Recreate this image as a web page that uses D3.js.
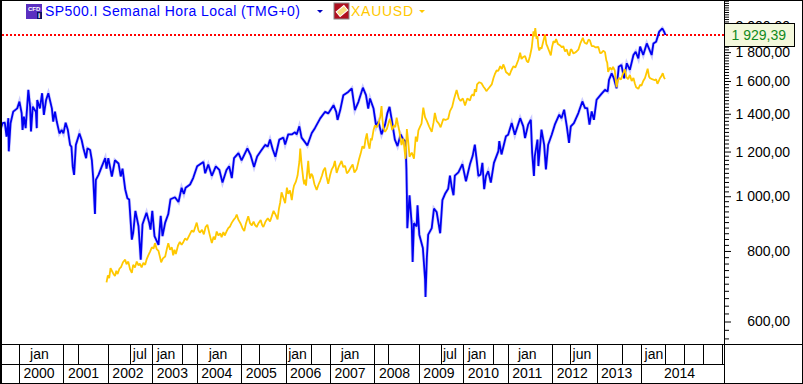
<!DOCTYPE html>
<html>
<head>
<meta charset="utf-8">
<script src="https://d3js.org/d3.v7.min.js"></script>
<style>
  html, body { margin: 0; padding: 0; background: #fff; overflow: hidden; }
  svg { display: block; font-family: "Liberation Sans", Arial, sans-serif; }
  .axis-label { font-size: 14px; fill: #000; }
</style>
</head>
<body>
<svg id="chart"></svg>
<script>
// Dados (ano decimal / preco na escala da direita)
const spxYears = [1999.57,1999.63,1999.68,1999.72,1999.76,1999.77,1999.81,1999.87,1999.96,2000.01,2000.06,2000.08,2000.11,2000.15,2000.21,2000.25,2000.27,2000.31,2000.38,2000.40,2000.41,2000.47,2000.52,2000.56,2000.61,2000.66,2000.74,2000.77,2000.81,2000.85,2000.91,2000.96,2001.00,2001.05,2001.10,2001.15,2001.18,2001.21,2001.24,2001.28,2001.36,2001.41,2001.45,2001.51,2001.54,2001.60,2001.64,2001.67,2001.71,2001.73,2001.79,2001.86,2001.94,2001.97,2002.01,2002.09,2002.16,2002.24,2002.29,2002.33,2002.39,2002.44,2002.48,2002.54,2002.57,2002.62,2002.69,2002.74,2002.78,2002.87,2002.93,2002.96,2003.00,2003.05,2003.14,2003.19,2003.23,2003.29,2003.36,2003.41,2003.51,2003.59,2003.66,2003.71,2003.75,2003.85,2003.92,2004.01,2004.15,2004.19,2004.26,2004.34,2004.43,2004.51,2004.58,2004.67,2004.73,2004.79,2004.84,2004.94,2005.01,2005.14,2005.21,2005.29,2005.36,2005.44,2005.54,2005.60,
  2005.65,2005.71,2005.77,2005.86,2005.95,2005.99,2006.06,2006.14,2006.21,2006.25,2006.31,2006.36,2006.42,2006.49,2006.59,2006.66,2006.78,2006.89,2006.96,2007.08,2007.14,2007.17,2007.23,2007.30,2007.41,2007.49,2007.56,2007.64,2007.74,2007.81,2007.86,2007.90,2007.98,2008.04,2008.09,2008.16,2008.24,2008.29,2008.34,2008.39,2008.46,2008.52,2008.59,2008.65,2008.70,2008.72,2008.73,2008.74,2008.79,2008.84,2008.86,2008.89,2008.95,2008.97,2009.01,2009.09,2009.14,2009.15,2009.18,2009.21,2009.29,2009.34,2009.40,2009.48,2009.53,2009.59,2009.66,2009.70,2009.74,2009.78,2009.81,2009.89,2009.98,2010.06,
  2010.15,2010.21,2010.26,2010.30,2010.34,2010.39,2010.43,2010.47,2010.51,2010.56,2010.62,2010.69,2010.79,2010.81,2010.86,2010.96,2011.01,2011.09,2011.16,2011.28,2011.35,2011.39,2011.46,2011.52,2011.55,2011.59,2011.61,2011.67,2011.69,2011.76,2011.82,2011.86,2011.91,2011.99,2012.06,2012.16,2012.21,2012.27,2012.33,2012.38,2012.42,2012.49,2012.59,2012.68,2012.74,2012.79,2012.84,2012.89,2012.94,2013.00,2013.11,2013.19,2013.25,2013.28,2013.34,2013.39,2013.45,2013.50,2013.56,2013.62,2013.68,2013.75,2013.83,2013.88,2013.94,2013.98,2014.05,2014.13,2014.24,2014.28,2014.34,2014.41,2014.48,2014.52,2014.55];
const spxValues = [1302,1347,1350,1275,1375,1201,1347,1412,1431,1471,1403,1310,1384,1320,1543,1441,1302,1441,1412,1320,1481,1431,1522,1393,1481,1522,1431,1356,1412,1356,1292,1310,1292,1350,1310,1233,1224,1127,1091,1233,1292,1258,1216,1168,1216,1208,1158,1077,930,1069,1091,1127,1168,1119,1168,1084,1158,1143,1084,1119,1029,992,987,838,861,942,885,772,892,935,898,873,942,850,820,923,850,898,930,988,996,977,1035,1009,1035,1049,1077,1130,1150,1098,1138,1087,1130,1113,1058,1113,1130,1077,1168,1192,1158,1216,1184,1127,1176,1201,1233,1225,
  1260,1211,1175,1260,1270,1235,1287,1287,1298,1287,1330,1270,1252,1230,1294,1320,1374,1411,1402,1450,1411,1365,1421,1510,1530,1552,1421,1470,1557,1510,1430,1490,1430,1329,1356,1287,1339,1402,1440,1365,1260,1227,1287,1260,1252,1117,1011,878,1004,890,765,896,884,964,855,810,712,663,778,855,878,951,938,860,984,1010,1031,1088,1038,1004,1088,1102,1140,1063,
  1139,1178,1234,1162,1086,1093,1146,1029,1086,1108,1057,1146,1202,1252,1186,1277,1285,1348,1285,1375,1330,1268,1339,1366,1194,1086,1178,1260,1131,1312,1234,1116,1234,1285,1339,1395,1375,1423,1330,1243,1330,1348,1404,1472,1432,1432,1339,1413,1366,1482,1518,1543,1533,1608,1650,1617,1553,1696,1708,1617,1720,1674,1779,1803,1754,1841,1779,1865,1779,1865,1878,1957,1983,1957,1930];

const goldPoints = [
  [2001.97,704],[2002.00,724],[2002.03,716],[2002.06,746],[2002.09,738],[2002.12,730],[2002.16,722],[2002.19,738],[2002.22,728],[2002.26,744],[2002.30,750],[2002.34,764],[2002.39,772],[2002.42,758],[2002.46,766],[2002.50,742],[2002.54,732],[2002.57,756],[2002.61,748],[2002.65,766],[2002.69,754],[2002.72,760],[2002.76,748],[2002.80,762],[2002.84,756],[2002.87,772],[2002.91,786],[2002.95,798],[2002.99,812],
  [2003.03,808],[2003.06,826],[2003.10,806],[2003.14,800],[2003.17,782],[2003.20,764],[2003.24,776],[2003.29,782],[2003.33,808],[2003.36,826],[2003.40,804],[2003.44,812],[2003.47,786],[2003.50,804],[2003.53,790],[2003.58,818],[2003.62,830],[2003.66,820],[2003.70,830],[2003.74,842],[2003.78,836],[2003.85,858],[2003.89,870],[2003.93,864],
  [2004.00,898],[2004.04,870],[2004.07,862],[2004.12,872],[2004.16,856],[2004.20,882],[2004.24,890],[2004.29,856],[2004.34,826],[2004.38,848],[2004.41,838],[2004.45,866],[2004.49,852],[2004.53,860],[2004.56,846],[2004.60,864],[2004.63,852],[2004.67,866],[2004.71,878],[2004.75,884],[2004.79,898],[2004.83,908],[2004.87,916],[2004.90,928],[2004.94,908],[2004.99,894],
  [2005.03,878],[2005.07,868],[2005.11,896],[2005.16,922],[2005.20,896],[2005.24,888],[2005.28,902],[2005.31,890],[2005.35,882],[2005.39,896],[2005.44,908],[2005.47,890],[2005.50,882],[2005.55,902],[2005.60,914],[2005.65,902],[2005.69,922],[2005.73,942],[2005.78,926],[2005.82,910],[2005.85,950],[2005.88,976],[2005.91,1016],[2005.95,994],[2005.99,972],
  [2006.03,1036],[2006.06,1010],[2006.10,1024],[2006.14,984],[2006.17,1026],[2006.19,1044],[2006.23,1060],[2006.27,1088],[2006.29,1120],[2006.31,1150],[2006.33,1215],[2006.36,1140],[2006.38,1105],[2006.40,1070],[2006.42,1050],[2006.44,1070],[2006.46,1044],[2006.49,1110],[2006.51,1155],[2006.53,1100],[2006.55,1075],[2006.58,1096],[2006.61,1086],[2006.65,1050],[2006.70,1026],[2006.74,1048],[2006.78,1066],[2006.82,1088],[2006.85,1110],[2006.89,1124],[2006.92,1085],[2006.96,1052],
  [2007.00,1088],[2007.04,1116],[2007.08,1130],[2007.11,1155],[2007.15,1100],[2007.20,1130],[2007.26,1155],[2007.30,1126],[2007.34,1132],[2007.38,1098],[2007.41,1104],[2007.46,1122],[2007.51,1138],[2007.55,1102],[2007.60,1116],[2007.65,1160],[2007.69,1190],[2007.73,1226],[2007.77,1215],[2007.80,1262],[2007.83,1292],[2007.86,1240],[2007.89,1214],[2007.92,1266],[2007.94,1256],[2007.98,1310],
  [2008.01,1335],[2008.05,1325],[2008.09,1345],[2008.13,1380],[2008.16,1445],[2008.18,1370],[2008.20,1325],[2008.24,1300],[2008.28,1316],[2008.32,1350],[2008.35,1372],[2008.40,1310],[2008.44,1335],[2008.47,1325],[2008.50,1378],[2008.53,1340],[2008.56,1305],[2008.59,1260],[2008.61,1232],[2008.65,1265],[2008.70,1165],[2008.73,1315],[2008.76,1250],[2008.79,1175],[2008.84,1195],[2008.89,1165],[2008.93,1275],[2008.96,1250],[2008.99,1308],
  [2009.03,1330],[2009.06,1345],[2009.10,1435],[2009.14,1380],[2009.18,1360],[2009.23,1330],[2009.29,1300],[2009.33,1350],[2009.36,1405],[2009.40,1360],[2009.45,1345],[2009.49,1325],[2009.55,1370],[2009.60,1365],[2009.66,1372],[2009.70,1415],[2009.75,1440],[2009.79,1485],[2009.85,1542],[2009.90,1490],[2009.94,1475],[2009.99,1490],
  [2010.04,1448],[2010.09,1490],[2010.15,1478],[2010.18,1505],[2010.21,1515],[2010.24,1505],[2010.26,1548],[2010.29,1530],[2010.31,1578],[2010.36,1592],[2010.41,1585],[2010.45,1565],[2010.49,1550],[2010.52,1535],[2010.54,1542],[2010.59,1560],[2010.64,1578],[2010.68,1620],[2010.71,1645],[2010.75,1670],[2010.79,1668],[2010.83,1700],[2010.87,1680],[2010.90,1712],[2010.93,1690],[2010.96,1660],
  [2011.00,1650],[2011.04,1638],[2011.08,1670],[2011.13,1700],[2011.17,1690],[2011.20,1712],[2011.24,1745],[2011.28,1796],[2011.31,1750],[2011.35,1765],[2011.39,1772],[2011.43,1735],[2011.46,1726],[2011.50,1770],[2011.54,1832],[2011.58,1960],[2011.60,1920],[2011.62,1986],[2011.65,1900],[2011.67,1922],[2011.69,1840],[2011.71,1812],[2011.74,1835],[2011.76,1825],[2011.80,1880],[2011.84,1934],[2011.87,1860],[2011.89,1845],[2011.93,1810],[2011.97,1776],
  [2012.00,1840],[2012.03,1882],[2012.06,1870],[2012.09,1898],[2012.13,1860],[2012.18,1850],[2012.22,1835],[2012.25,1845],[2012.29,1805],[2012.33,1820],[2012.36,1785],[2012.39,1775],[2012.42,1822],[2012.44,1816],[2012.48,1790],[2012.51,1795],[2012.55,1805],[2012.59,1818],[2012.64,1870],[2012.69,1908],[2012.73,1870],[2012.78,1862],[2012.82,1895],[2012.85,1888],[2012.89,1845],[2012.93,1845],[2012.98,1835],
  [2013.04,1838],[2013.08,1792],[2013.11,1795],[2013.15,1810],[2013.19,1800],[2013.22,1740],[2013.24,1725],[2013.26,1660],[2013.30,1690],[2013.34,1675],[2013.37,1695],[2013.41,1670],[2013.43,1610],[2013.45,1560],[2013.48,1605],[2013.51,1620],[2013.55,1610],[2013.59,1645],[2013.64,1678],[2013.67,1625],[2013.71,1612],[2013.75,1640],[2013.79,1600],[2013.83,1620],[2013.86,1585],[2013.89,1560],[2013.94,1550],[2013.98,1575],
  [2014.01,1570],[2014.05,1600],[2014.09,1620],[2014.12,1650],[2014.15,1682],[2014.18,1630],[2014.20,1620],[2014.25,1612],[2014.31,1605],[2014.34,1612],[2014.37,1582],[2014.40,1600],[2014.43,1620],[2014.46,1632],[2014.49,1652],[2014.52,1622],[2014.54,1612]
];

const priceTicks = [600,800,1000,1200,1400,1600,1800,2000];
const lastPrice = 1929.39;

const yearLabels = [2000,2001,2002,2003,2004,2005,2006,2007,2008,2009,2010,2011,2012,2013,2014];
const monthLabels = ["jan","jul","jan","jan","jan","jan","jul","jan","jan","jun","jan"];
const monthLabelYears = [2000.46,2002.72,2003.31,2004.48,2006.27,2007.45,2009.70,2010.31,2011.44,2012.67,2014.29];
const monthDividers = [2000,2001,2001.33,2002,2002.5,2003,2003.66,2004,2005,2005.41,2006,2006.58,2007,2008,2008.31,2009,2009.5,2010,2010.66,2011,2012,2012.41,2013,2013.58,2014,2014.55,2014.97,2015.4,2015.82];

// Tamanhos
const width = 803;
const height = 384;
const plotRight = 724;
const plotBottom = 344;
const rowMid = 364;

const svg = d3.select("#chart").attr("width", width).attr("height", height);

// Escalas
const x = d3.scaleLinear().domain([2000, 2014]).range([19, 641]);
const y = d3.scaleLog().domain([600, 1600]).range([321.5, 81]);
const fmt = d3.formatLocale({ decimal: ",", thousands: " ", grouping: [3], currency: ["", ""] }).format(",.2f");

svg.append("defs").append("clipPath").attr("id", "plot")
    .append("rect").attr("width", plotRight).attr("height", plotBottom);

// Linha do ultimo preco
svg.append("line")
    .attr("x1", 2).attr("x2", plotRight)
    .attr("y1", y(lastPrice)).attr("y2", y(lastPrice))
    .attr("stroke", "#f00").attr("stroke-width", 2).attr("stroke-dasharray", "2,2");

// Series
const line = d3.line().x(d => x(d[0])).y(d => y(d[1]));
const spx = d3.zip(spxYears, spxValues);
const marks = svg.append("g").attr("clip-path", "url(#plot)");

marks.append("path").datum(spx).attr("d", line)
    .attr("fill", "none").attr("stroke", "#0000ff").attr("stroke-width", 3.2).attr("stroke-opacity", 0.2);
marks.append("path").datum(spx).attr("d", line)
    .attr("fill", "none").attr("stroke", "#0000f0").attr("stroke-width", 1.8).attr("stroke-linejoin", "bevel");
marks.append("path").datum(goldPoints).attr("d", line)
    .attr("fill", "none").attr("stroke", "#ffc800").attr("stroke-width", 1.8).attr("stroke-linejoin", "bevel");

// Eixo de precos
const minorTicks = d3.range(560, 2240, 20).filter(v => !priceTicks.includes(v));
svg.append("g")
    .attr("transform", `translate(${plotRight + 1},0)`)
    .call(d3.axisRight(y).tickValues(minorTicks).tickSize(4).tickFormat(""))
    .call(g => g.select(".domain").remove());

const yAxis = svg.append("g")
    .attr("transform", `translate(${plotRight + 1},0)`)
    .call(d3.axisRight(y).tickValues(priceTicks).tickSize(6).tickPadding(59).tickFormat(fmt));
yAxis.select(".domain").remove();
yAxis.selectAll("text")
    .attr("class", "axis-label")
    .attr("text-anchor", "end")
    .attr("dy", "0.32em");

// Etiqueta do ultimo preco
const tag = svg.append("g").attr("transform", `translate(${plotRight + 0.5},${Math.round(y(lastPrice))})`);
tag.append("rect").attr("x", 0).attr("y", -11.5).attr("width", 70).attr("height", 23)
    .attr("fill", "#f4f8dc").attr("stroke", "#000").attr("stroke-width", 1);
tag.append("text").attr("x", 7).attr("y", 5).attr("font-size", 14).attr("fill", "#108a20").text(fmt(lastPrice));

// Grade do tempo
const frame = svg.append("g").attr("stroke", "#000").attr("stroke-width", 1).attr("shape-rendering", "crispEdges");
frame.append("line").attr("x1", 0).attr("x2", width).attr("y1", plotBottom + 0.5).attr("y2", plotBottom + 0.5);
frame.append("line").attr("x1", 0).attr("x2", plotRight).attr("y1", rowMid + 0.5).attr("y2", rowMid + 0.5);
frame.append("line").attr("x1", 0).attr("x2", width).attr("y1", 383.5).attr("y2", 383.5);
frame.append("line").attr("x1", 0).attr("x2", width).attr("y1", 0.5).attr("y2", 0.5);
frame.append("line").attr("x1", 0.5).attr("x2", 0.5).attr("y1", 0).attr("y2", height).attr("stroke-width", 2);
frame.append("line").attr("x1", plotRight + 0.5).attr("x2", plotRight + 0.5).attr("y1", 0).attr("y2", height);
frame.append("line").attr("x1", 802.5).attr("x2", 802.5).attr("y1", 0).attr("y2", height);

frame.selectAll(".month-div").data(monthDividers).enter().append("line")
    .attr("x1", d => Math.round(x(d)) + 0.5).attr("x2", d => Math.round(x(d)) + 0.5)
    .attr("y1", plotBottom).attr("y2", rowMid);
frame.selectAll(".year-div").data(yearLabels).enter().append("line")
    .attr("x1", d => Math.round(x(d)) + 0.5).attr("x2", d => Math.round(x(d)) + 0.5)
    .attr("y1", rowMid).attr("y2", height);

svg.selectAll(".month-label").data(monthLabels).enter().append("text")
    .attr("class", "axis-label")
    .attr("x", (d, i) => x(monthLabelYears[i]))
    .attr("y", 359).attr("text-anchor", "middle").text(d => d);

svg.selectAll(".year-label").data(yearLabels).enter().append("text")
    .attr("class", "axis-label")
    .attr("x", d => x(d) + (d === 2014 ? 23 : 4.5))
    .attr("y", 378).text(d => d);

// Legenda
const legend = svg.append("g");
legend.append("rect").attr("x", 26).attr("y", 4).attr("width", 16).attr("height", 15).attr("fill", "#5a2fc0");
legend.append("rect").attr("x", 37).attr("y", 12).attr("width", 5).attr("height", 7).attr("fill", "#101060");
legend.append("text").attr("x", 28).attr("y", 11).attr("font-size", 6).attr("font-weight", "bold").attr("fill", "#fff").text("CFD");
legend.append("text").attr("x", 38).attr("y", 18).attr("font-size", 8).attr("font-weight", "bold").attr("fill", "#fff").text("i");
legend.append("text").attr("x", 45).attr("y", 16).attr("font-size", 14).attr("fill", "#0000ff")
    .attr("textLength", 255).attr("lengthAdjust", "spacing").text("SP500.I Semanal Hora Local (TMG+0)");
legend.append("path").attr("d", d3.line()([[317, 10], [323, 10], [320, 13]])).attr("fill", "#0000c0");

legend.append("rect").attr("x", 334).attr("y", 3).attr("width", 15).attr("height", 16).attr("fill", "#b01020").attr("stroke", "#888");
legend.append("rect").attr("x", 337).attr("y", 8).attr("width", 10).attr("height", 6)
    .attr("transform", "rotate(-40 342 11)").attr("fill", "#f8dc80").attr("stroke", "#fff");
legend.append("text").attr("x", 351).attr("y", 16).attr("font-size", 14).attr("fill", "#ffc800")
    .attr("textLength", 62).attr("lengthAdjust", "spacing").text("XAUUSD");
legend.append("path").attr("d", d3.line()([[419, 10], [425, 10], [422, 13]])).attr("fill", "#ffc800");
</script>
</body>
</html>
